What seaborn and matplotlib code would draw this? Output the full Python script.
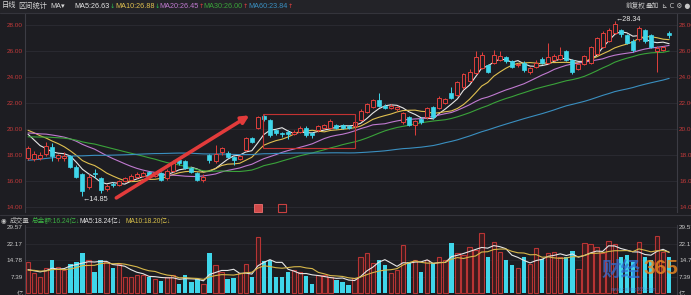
import numpy as np
import pandas as pd
import matplotlib
matplotlib.use("Agg")
import matplotlib.pyplot as plt
from matplotlib.patches import Rectangle
import seaborn as sns

# ---------------- data ----------------
pre_close = [15.6, 15.4, 15.2, 15.0, 14.9, 15.1, 15.3, 15.2, 15.0, 15.1,
             15.3, 15.4, 15.2, 15.1, 15.3, 15.4, 15.3, 15.2, 15.3, 15.4,
             15.6, 15.9, 16.2, 16.5, 16.8, 17.1, 17.4, 17.6, 17.8, 18.0,
             18.3, 18.5, 18.6, 18.7, 18.8, 18.9, 19.0, 19.0, 19.1, 19.2,
             18.6, 18.9, 19.1, 19.3, 19.5, 19.7, 19.8, 19.9, 20.0, 20.1,
             20.0, 20.3, 20.5, 20.2, 20.0, 20.3, 20.2, 19.8, 19.2]
open_ = [17.8, 17.7, 17.8, 18.1, 18.6, 17.8, 17.8, 17.9, 17.1, 16.5,
         15.5, 16.6, 16.2, 15.4, 15.8, 15.7, 16.0, 16.1, 16.3, 16.4,
         16.7, 16.4, 16.6, 16.2, 16.8, 17.6, 17.5, 17.0, 16.6, 16.1,
         18.0, 17.5, 18.2, 18.15, 17.85, 17.7, 18.4, 19.3, 20.1, 21.0,
         20.7, 19.9, 19.7, 19.8, 19.6, 19.8, 20.1, 19.7, 19.9, 20.1,
         20.1, 20.3, 20.3, 20.2, 20.2, 20.7, 21.3, 21.7, 22.2, 21.8,
         21.6, 21.5, 20.5, 20.9, 20.3, 20.8, 20.9, 21.7, 21.6, 22.0,
         22.8, 22.6, 23.2, 23.7, 24.3, 24.7, 24.9, 25.1, 25.3, 25.5,
         25.2, 24.9, 25.1, 24.4, 24.8, 25.4, 25.1, 25.3, 25.4, 26.0,
         25.3, 24.6, 25.0, 25.1, 25.8, 26.3, 26.8, 27.4, 27.6, 27.2,
         26.8, 26.9, 27.6, 27.2, 26.0, 26.1, 27.4]
close = [18.5, 18.1, 18.0, 18.7, 17.9, 18.0, 17.9, 17.1, 16.3, 15.2,
         16.3, 16.5, 15.3, 15.6, 15.7, 16.0, 16.2, 16.4, 16.5, 16.6,
         16.4, 16.6, 16.1, 16.8, 17.4, 17.4, 17.0, 16.7, 16.1, 16.3,
         17.6, 18.1, 18.5, 17.85, 17.6, 17.9, 19.3, 19.0, 20.9, 20.8,
         19.5, 19.7, 19.6, 19.6, 19.8, 20.1, 19.5, 19.5, 20.2, 20.3,
         20.6, 20.1, 20.1, 20.1, 20.5, 21.4, 21.9, 22.2, 21.8, 21.6,
         21.8, 21.7, 21.2, 20.3, 20.6, 20.5, 21.6, 20.9, 22.4, 22.3,
         22.4, 23.6, 24.2, 24.4, 25.5, 25.7, 24.4, 25.7, 25.6, 25.2,
         24.8, 25.0, 24.5, 24.7, 25.1, 25.1, 25.5, 25.6, 25.7, 25.3,
         24.4, 25.0, 25.6, 26.3, 27.0, 27.4, 27.6, 28.1, 27.3, 26.6,
         26.1, 27.8, 26.8, 26.3, 26.2, 26.3, 27.2]
high = [18.7, 18.3, 18.2, 19.0, 18.9, 18.1, 18.2, 18.0, 17.2, 16.6,
        16.5, 16.9, 16.3, 15.8, 15.9, 16.1, 16.3, 16.5, 16.7, 16.8,
        16.8, 16.7, 16.7, 16.9, 17.6, 17.7, 17.6, 17.1, 16.7, 16.5,
        18.1, 18.8, 18.6, 18.3, 17.9, 18.0, 19.4, 19.4, 21.0, 21.1,
        20.8, 20.0, 19.8, 19.9, 19.9, 20.2, 20.2, 19.8, 20.3, 20.4,
        20.8, 20.4, 20.4, 20.3, 20.8, 21.5, 22.0, 22.3, 22.8, 21.9,
        21.9, 21.8, 21.3, 21.0, 20.7, 20.9, 21.7, 21.8, 22.5, 22.4,
        23.2, 23.7, 24.3, 24.6, 26.0, 25.9, 25.0, 26.1, 26.0, 25.6,
        25.3, 25.1, 25.2, 24.8, 25.3, 25.5, 26.6, 25.8, 26.3, 26.1,
        25.4, 25.1, 25.7, 26.4, 27.1, 27.5, 27.8, 28.34, 27.7, 27.3,
        26.9, 27.9, 27.7, 27.3, 26.4, 26.4, 27.5]
low = [17.6, 17.5, 17.6, 17.9, 17.5, 17.5, 17.5, 17.0, 16.2, 14.85,
       15.4, 16.2, 15.1, 15.2, 15.5, 15.6, 15.9, 16.0, 16.2, 16.3,
       16.3, 16.3, 16.0, 16.1, 16.7, 17.2, 16.9, 16.6, 16.0, 15.9,
       17.4, 17.4, 18.0, 17.8, 17.2, 17.6, 18.3, 18.9, 20.0, 20.6,
       19.4, 19.5, 19.4, 19.2, 19.5, 19.7, 19.4, 19.3, 19.8, 20.0,
       20.0, 20.0, 20.0, 20.0, 20.1, 20.6, 21.2, 21.6, 21.7, 21.5,
       21.5, 21.4, 20.4, 20.2, 19.5, 20.4, 20.8, 20.8, 21.5, 21.9,
       22.3, 22.5, 23.1, 23.6, 24.2, 24.6, 24.3, 25.0, 25.2, 25.1,
       24.7, 24.8, 24.4, 24.2, 24.7, 25.0, 25.0, 25.2, 25.3, 25.2,
       24.2, 24.5, 24.9, 25.0, 25.7, 26.2, 26.7, 27.3, 27.1, 26.5,
       25.9, 26.8, 26.6, 26.2, 24.4, 26.0, 27.0]
pre_volume = [9.5, 11.0, 10.2, 9.0, 10.8, 11.5, 9.8, 8.5, 9.2]
volume = [14.0, 9.0, 7.3, 11.2, 14.8, 11.8, 10.3, 13.3, 14.0, 18.2,
          14.8, 9.6, 14.8, 14.0, 11.2, 13.3, 7.3, 7.3, 8.1, 8.1,
          7.3, 6.6, 5.5, 7.3, 8.1, 4.0, 8.1, 5.1, 6.6, 4.3,
          18.1, 12.6, 9.6, 6.6, 6.9, 9.0, 13.3, 7.3, 25.0, 14.5,
          15.1, 7.3, 7.3, 9.6, 10.3, 9.6, 7.6, 4.3, 8.1, 8.1,
          7.3, 5.8, 5.1, 3.6, 7.0, 16.3, 18.1, 13.4, 14.8, 12.6,
          9.0, 10.5, 21.5, 14.0, 14.8, 9.6, 14.8, 13.4, 16.3, 14.8,
          22.6, 17.9, 17.3, 20.8, 19.3, 27.0, 16.3, 23.0, 18.5, 14.8,
          12.6, 11.3, 16.3, 13.0, 20.0, 15.4, 17.9, 18.5, 16.3, 16.3,
          18.8, 10.8, 22.3, 21.9, 20.5, 18.0, 23.3, 21.9, 16.3, 17.0,
          14.0, 23.0, 16.3, 14.8, 25.6, 18.5, 16.3]
price_ticks = [14, 16, 18, 20, 22, 24, 26, 28]
price_labels = ["14.00", "16.00", "18.00", "20.00", "22.00", "24.00", "26.00", "28.00"]
vol_ticks = [0, 7.39, 14.78, 22.17, 29.57]
vol_labels = ["亿", "7.39", "14.78", "22.17", "29.57"]
ma_windows = [5, 10, 20, 30, 60]
ma_names = ["MA5:26.63", "MA10:26.88", "MA20:26.45", "MA30:26.00", "MA60:23.84"]
ma_arrows = ["↓", "↓", "↑", "↑", "↑"]
vol_head = ["总金额:16.24亿", "MA5:18.24亿", "MA10:18.20亿"]

# ---------------- style ----------------
BG = "#1d1d22"
HEAD = "#232328"
RED = "#e0403c"
CYAN = "#3fd6ea"
GRID = "#2c2c33"
AXC = "#3c3c44"
MA_COLORS = ["#e6e6e6", "#e0c050", "#c07ad0", "#3aa33a", "#3a8fc0"]
W, H = 691, 295

sns.set_theme(style="dark")
plt.rcParams["font.family"] = ["Liberation Sans", "Noto Sans CJK SC", "DejaVu Sans"]
plt.rcParams["axes.unicode_minus"] = False

fig = plt.figure(figsize=(W / 100, H / 100), dpi=100, facecolor=BG)


def rect(l, t, r, b):
    return [l / W, 1 - b / H, (r - l) / W, (b - t) / H]


def ftext(x, y, s, color, size=5.2, **kw):
    fig.text(x / W, 1 - y / H, s, color=color, fontsize=size, va="center", ha="left", **kw)


# header strip
fig.patches.append(Rectangle((0, 1 - 12.5 / H), 1, 12.5 / H, transform=fig.transFigure,
                             facecolor=HEAD, edgecolor="none", zorder=0))
fig.lines.append(plt.Line2D([0, 1], [1 - 12.5 / H] * 2, transform=fig.transFigure, color="#34343b", lw=0.8))
fig.lines.append(plt.Line2D([0, 1], [1 - 214.5 / H] * 2, transform=fig.transFigure, color="#34343b", lw=0.8))

idx = np.arange(len(close))
o = np.array(open_)
c = np.array(close)
hi = np.array(high)
lo = np.array(low)
up = c >= o

# ---------------- price panel ----------------
ax = fig.add_axes(rect(25, 13, 677, 212))
ax.set_facecolor(BG)
for y in price_ticks:
    ax.axhline(y, color=GRID, lw=0.6, zorder=0)

allc = pd.Series(pre_close + close)
n_pre = len(pre_close)
for w, col in zip(ma_windows, MA_COLORS):
    ma = allc.rolling(w).mean().to_numpy()[n_pre:]
    sns.lineplot(x=idx, y=ma, color=col, lw=0.8, ax=ax, zorder=3)

candle_col = np.where(up, RED, CYAN)
ax.vlines(idx, lo, hi, colors=candle_col, lw=0.7, zorder=4)
body_b = np.minimum(o, c)
body_h = np.maximum(np.abs(c - o), 0.06)
ax.bar(idx[up], body_h[up], bottom=body_b[up], width=0.66, facecolor=BG,
       edgecolor=RED, lw=0.7, zorder=5)
ax.bar(idx[~up], body_h[~up], bottom=body_b[~up], width=0.66, facecolor=CYAN,
       edgecolor=CYAN, lw=0.5, zorder=5)

# highlight box and arrow
ax.add_patch(Rectangle((38.8, 18.55), 54.0 - 38.8, 21.15 - 18.55, fill=False,
                       edgecolor="#c23232", lw=0.8, zorder=6))
ax.annotate("", xy=(36.6, 21.05), xytext=(14.6, 14.7),
            arrowprops=dict(arrowstyle="-|>", color="#e23b3b", lw=2.6, mutation_scale=11,
                            shrinkA=0, shrinkB=0), zorder=7)
ax.annotate("←14.85", xy=(9, 14.85), xytext=(9.0, 14.6), color="#e8e8e8", fontsize=5.2,
            va="center", ha="left")
ax.annotate("←28.34", xy=(97, 28.34), xytext=(97.1, 28.45), color="#e8e8e8", fontsize=5.2,
            va="center", ha="left")

ax.set_xlim(-0.5, 107.3)
ax.set_ylim(13.615, 28.923)
ax.set_yticks(price_ticks, price_labels)
ax.set_xticks([])
ax.tick_params(axis="y", length=0, pad=1.5, labelsize=4.6, labelcolor="#c23a3a",
               labelleft=True, labelright=True)
ax.set_xlabel("")
ax.set_ylabel("")
for s in ["top", "bottom"]:
    ax.spines[s].set_visible(False)
for s in ["left", "right"]:
    ax.spines[s].set_color(AXC)
    ax.spines[s].set_linewidth(0.8)
ax.grid(False)

# ---------------- volume panel ----------------
axv = fig.add_axes(rect(25, 225, 677, 295))
axv.set_facecolor(BG)
for y in vol_ticks[1:]:
    axv.axhline(y, color=GRID, lw=0.5, zorder=0)
vdf = pd.DataFrame({"i": idx, "v": volume, "up": up})
sns.barplot(data=vdf[vdf.up], x="i", y="v", native_scale=True, color="#3a1c1e", saturation=1,
            width=0.72, errorbar=None, linewidth=0, ax=axv)
sns.barplot(data=vdf[vdf.up], x="i", y="v", native_scale=True, color="#b83434", saturation=1,
            width=0.72, errorbar=None, fill=False, linewidth=0.8, ax=axv)
sns.barplot(data=vdf[~vdf.up], x="i", y="v", native_scale=True, color=CYAN, saturation=1,
            width=0.72, errorbar=None, linewidth=0, ax=axv)
allv = pd.Series(pre_volume + volume)
nv = len(pre_volume)
for w, col in zip([5, 10], ["#e6e6e6", "#d8b84a"]):
    mv = allv.rolling(w).mean().to_numpy()[nv:]
    sns.lineplot(x=idx, y=mv, color=col, lw=0.8, ax=axv, zorder=5)

axv.set_xlim(-0.5, 107.3)
axv.set_ylim(-0.667, 30.44)
axv.set_yticks(vol_ticks, vol_labels)
axv.set_xticks([])
axv.tick_params(axis="y", length=0, pad=1.5, labelsize=4.6, labelcolor="#c8c8c8",
                labelleft=True, labelright=True)
axv.set_xlabel("")
axv.set_ylabel("")
for s in ["top", "bottom"]:
    axv.spines[s].set_visible(False)
for s in ["left", "right"]:
    axv.spines[s].set_color(AXC)
    axv.spines[s].set_linewidth(0.8)
axv.grid(False)

# ---------------- header texts ----------------
ftext(2, 6, "日线", "#d8d8d8")
ftext(18, 6, "区间统计", "#d8d8d8")
ftext(50, 6, "MA▾", "#d8d8d8")
xs = [74, 115, 159, 203, 248]
for x, name, arr, col in zip(xs, ma_names, ma_arrows, MA_COLORS):
    ftext(x, 6, name, col)
    acol = "#2fbf4f" if arr == "↓" else "#e04040"
    ftext(x + len(name) * 3.85 + 1, 6, arr, acol, size=4.6, family=["DejaVu Sans"])
ftext(626, 6, "前复权", "#c8c8c8", size=4.8)
ftext(646, 6, "叠加", "#c8c8c8", size=4.8)
ftext(662, 6, "⊾ C ⚙ ●", "#c8c8c8", size=4.8, family=["DejaVu Sans"])

ftext(1, 221, "◉", "#c8c8c8", size=4.6, family=["DejaVu Sans"])
ftext(10, 221, "成交量", "#b8b8b8", size=4.8)
ftext(32, 221, vol_head[0] + "↓", "#3cb043", size=4.8)
ftext(80, 221, vol_head[1] + "↓", "#e6e6e6", size=4.8)
ftext(125, 221, vol_head[2] + "↓", "#d8c04a", size=4.8)

# small red marks under the price chart
fig.patches.append(Rectangle((254 / W, 1 - 212 / H), 8 / W, 8 / H, transform=fig.transFigure,
                             facecolor="#d04a4a", edgecolor="#f07070", lw=0.6, zorder=5))
fig.patches.append(Rectangle((278 / W, 1 - 212 / H), 8 / W, 8 / H, transform=fig.transFigure,
                             facecolor="none", edgecolor="#c84040", lw=0.8, zorder=5))

# watermark
ftext(602, 270, "财经", "#2f6fd8", size=14, fontweight="bold", alpha=0.75)
ftext(643, 268, "365", "#f08a20", size=15, fontweight="bold", alpha=0.8)
ftext(610, 289, "www.caijing365.com", "#4a7ad0", size=3.6, alpha=0.7)

fig.savefig("out.png", dpi=100, facecolor=BG)
